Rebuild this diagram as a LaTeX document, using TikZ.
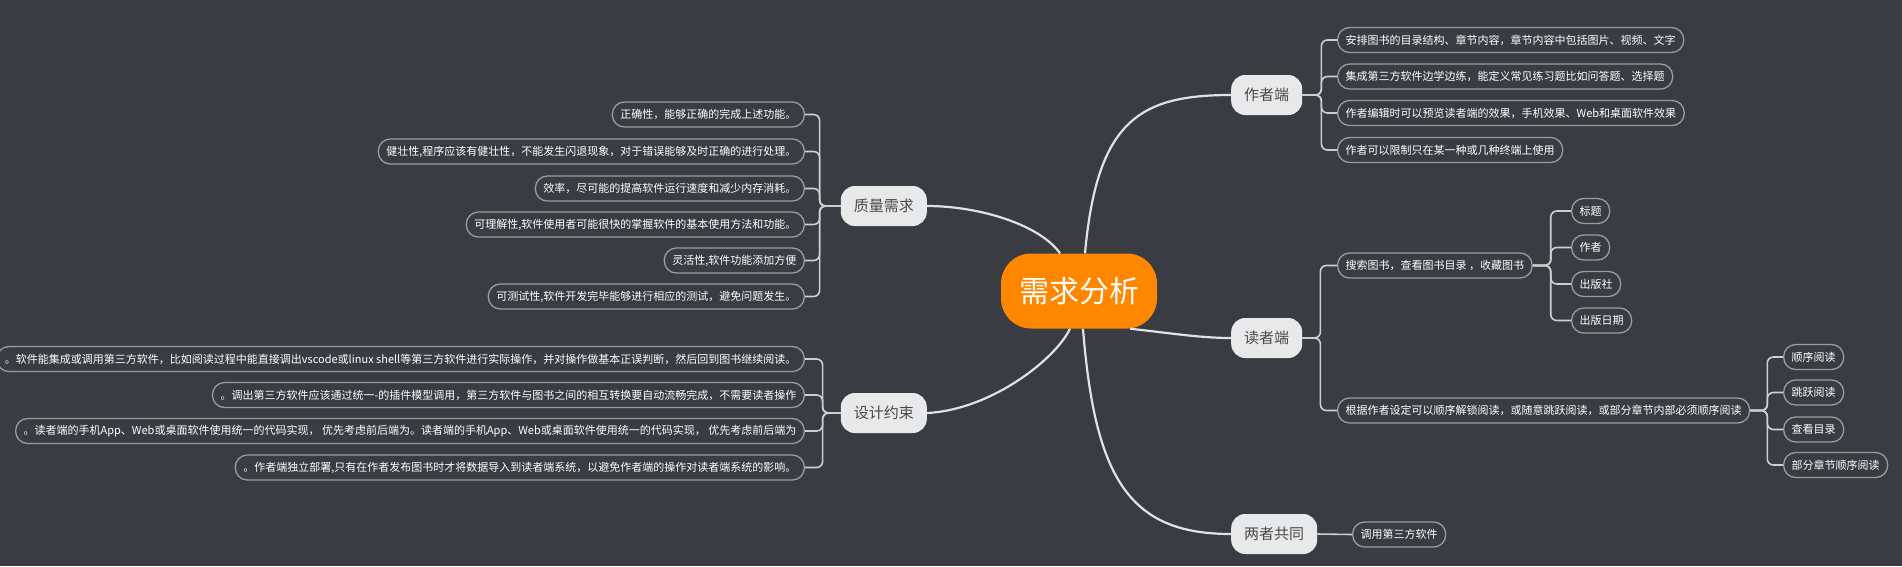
\documentclass[tikz,border=0pt]{standalone}
\usepackage{fontspec}
\setmainfont{Noto Sans CJK SC}
\usetikzlibrary{arrows.meta}
\definecolor{canvas}{HTML}{393C42}
\definecolor{rootorange}{HTML}{FF8700}
\definecolor{branchfill}{HTML}{E8E9EB}
\definecolor{branchtext}{HTML}{4A4A4A}
\definecolor{leafline}{HTML}{9C9C9C}
\definecolor{wire}{HTML}{E2E2E2}
\definecolor{twigline}{HTML}{CFCFCF}

\begin{document}
\begin{tikzpicture}[
  x=1pt, y=-1pt,
  root/.style={fill=rootorange, text=white, rounded corners=30pt, minimum height=75pt, inner xsep=18pt, font={\fontsize{30}{34}\selectfont}},
  branch/.style={fill=branchfill, text=branchtext, rounded corners=14pt, minimum height=40pt, inner xsep=13pt, font={\fontsize{15}{18}\selectfont}},
  leaf/.style={draw=leafline, line width=1.3pt, fill=canvas, text=white, rounded corners=12pt, minimum height=25pt, inner ysep=2pt, inner xsep=8pt, font={\fontsize{11}{13}\selectfont}},
  wire/.style={draw=wire, line width=2.2pt},
  twig/.style={draw=twigline, line width=1.6pt, rounded corners=6pt}
]
\fill[canvas] (0,0) rectangle (1902,566);
\useasboundingbox (0,0) rectangle (1902,566);

% centre
\node[root] (root) at (1079,291) {需求分析};

% main branches
\node[branch, anchor=west] (author) at (1231,95) {作者端};
\node[branch, anchor=west] (reader) at (1231,338) {读者端};
\node[branch, anchor=west] (both) at (1231,534) {两者共同};
\node[branch, anchor=east] (quality) at (927,206) {质量需求};
\node[branch, anchor=east] (design) at (927,413) {设计约束};

% author side
\node[leaf, anchor=west] (a1) at (1337,40) {安排图书的目录结构、章节内容，章节内容中包括图片、视频、文字};
\node[leaf, anchor=west] (a2) at (1337,76.5) {集成第三方软件边学边练，能定义常见练习题比如问答题、选择题};
\node[leaf, anchor=west] (a3) at (1337,113) {作者编辑时可以预览读者端的效果，手机效果、Web和桌面软件效果};
\node[leaf, anchor=west] (a4) at (1337,150) {作者可以限制只在某一种或几种终端上使用};

% reader side
\node[leaf, anchor=west] (search) at (1337,265.5) {搜索图书，查看图书目录 ，收藏图书};
\node[leaf, anchor=west] (order) at (1337,410.5) {根据作者设定可以顺序解锁阅读，或随意跳跃阅读，或部分章节内部必须顺序阅读};
\node[leaf, anchor=west] (s1) at (1571,211) {标题};
\node[leaf, anchor=west] (s2) at (1571,247.5) {作者};
\node[leaf, anchor=west] (s3) at (1571,284) {出版社};
\node[leaf, anchor=west] (s4) at (1571,320.5) {出版日期};
\node[leaf, anchor=west] (o1) at (1783,357) {顺序阅读};
\node[leaf, anchor=west] (o2) at (1783,392.5) {跳跃阅读};
\node[leaf, anchor=west] (o3) at (1783,429.5) {查看目录};
\node[leaf, anchor=west] (o4) at (1783,465) {部分章节顺序阅读};

% both
\node[leaf, anchor=west] (b1) at (1352,534.5) {调用第三方软件};

% quality
\node[leaf, anchor=east] (q1) at (805,114.5) {正确性，能够正确的完成上述功能。};
\node[leaf, anchor=east] (q2) at (805,151.5) {健壮性,程序应该有健壮性，不能发生闪退现象，对于错误能够及时正确的进行处理。};
\node[leaf, anchor=east] (q3) at (805,188.5) {效率，尽可能的提高软件运行速度和减少内存消耗。};
\node[leaf, anchor=east] (q4) at (805,224.5) {可理解性,软件使用者可能很快的掌握软件的基本使用方法和功能。};
\node[leaf, anchor=east] (q5) at (805,260.5) {灵活性,软件功能添加方便};
\node[leaf, anchor=east] (q6) at (805,296.5) {可测试性,软件开发完毕能够进行相应的测试，避免问题发生。};

% design
\node[leaf, anchor=east] (d1) at (805,359) {。软件能集成或调用第三方软件，比如阅读过程中能直接调出vscode或linux shell等第三方软件进行实际操作，并对操作做基本正误判断，然后回到图书继续阅读。};
\node[leaf, anchor=east] (d2) at (805,395) {。调出第三方软件应该通过统一-的插件模型调用，第三方软件与图书之间的相互转换要自动流畅完成，不需要读者操作};
\node[leaf, anchor=east] (d3) at (805,431) {。读者端的手机App、Web或桌面软件使用统一的代码实现， 优先考虑前后端为。读者端的手机App、Web或桌面软件使用统一的代码实现， 优先考虑前后端为};
\node[leaf, anchor=east] (d4) at (805,467.5) {。作者端独立部署,只有在作者发布图书时才将数据导入到读者端系统，以避免作者端的操作对读者端系统的影响。};

% curves from the centre
\draw[wire] ([xshift=6pt]root.north) .. controls (1097,120) and (1140,95) .. (author.west);
\draw[wire] ([xshift=51pt]root.south) .. controls (1170,333) and (1200,338) .. (reader.west);
\draw[wire] ([xshift=4pt]root.south) .. controls (1095,480) and (1130,534) .. (both.west);
\draw[wire] ([xshift=-19pt]root.north) .. controls (1040,225) and (980,206) .. (quality.east);
\draw[wire] ([xshift=-9pt]root.south) .. controls (1055,360) and (990,410) .. (design.east);

% brackets
\foreach \c in {a1,a2,a3,a4}
  \draw[twig] (author.east) -- ++(19,0) |- (\c.west);
\foreach \c in {search,order}
  \draw[twig] (reader.east) -- ++(18,0) |- (\c.west);
\foreach \c in {s1,s2,s3,s4}
  \draw[twig] (search.east) -- ++(18,0) |- (\c.west);
\foreach \c in {o1,o2,o3,o4}
  \draw[twig] (order.east) -- ++(17,0) |- (\c.west);
\draw[twig] (both.east) -- (b1.west);
\foreach \c in {q1,q2,q3,q4,q5,q6}
  \draw[twig] (quality.west) -- ++(-21,0) |- (\c.east);
\foreach \c in {d1,d2,d3,d4}
  \draw[twig] (design.west) -- ++(-18,0) |- (\c.east);
\end{tikzpicture}
\end{document}
